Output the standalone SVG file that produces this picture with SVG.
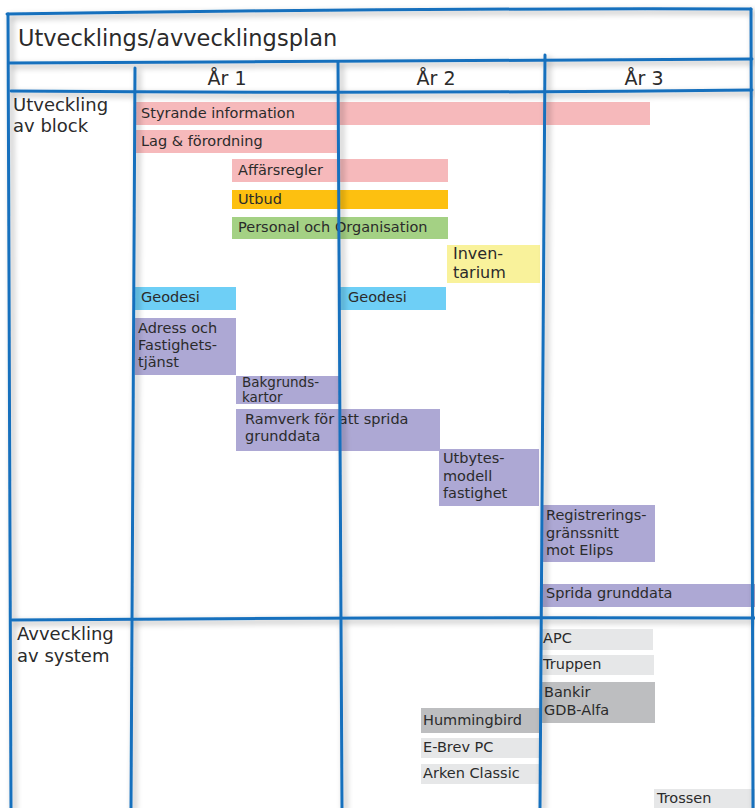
<svg xmlns="http://www.w3.org/2000/svg" width="755" height="808" viewBox="0 0 755 808">
  <defs>
    <filter id="soft" x="-10%" y="-10%" width="120%" height="120%">
      <feGaussianBlur in="SourceAlpha" stdDeviation="3" result="b"/>
      <feOffset in="b" dx="3" dy="3" result="o"/>
      <feComponentTransfer in="o" result="s">
        <feFuncA type="linear" slope="0.35"/>
      </feComponentTransfer>
      <feMerge>
        <feMergeNode in="s"/>
        <feMergeNode in="SourceGraphic"/>
      </feMerge>
    </filter>
  </defs>
  <style>
    text { font-family: "DejaVu Sans", "Liberation Sans", sans-serif; fill: #2b2b2b; }
    .t { font-size: 14.5px; }
    .h { font-size: 19px; }
    .lbl { font-size: 18px; }
    .ttl { font-size: 22.5px; }
    .ln { fill: none; stroke: #1770bd; stroke-width: 3; stroke-linecap: round; }
    .pink { fill: #f6b9bb; }
    .orange { fill: #fdc010; }
    .green { fill: #a4d184; }
    .yellow { fill: #f9f29b; }
    .blue { fill: #6ecff6; }
    .purple { fill: #ada8d4; }
    .lgray { fill: #e6e7e8; }
    .dgray { fill: #bdbec0; }
  </style>

  <rect width="755" height="808" fill="#ffffff"/>

  <!-- bars: development of blocks -->
  <g id="styrande"><rect class="pink" x="135" y="102" width="515" height="23"/><text class="t" x="141" y="118">Styrande information</text></g>
  <g id="lag"><rect class="pink" x="135" y="130" width="204" height="23"/><text class="t" x="141" y="146">Lag &amp; förordning</text></g>
  <g id="affarsregler"><rect class="pink" x="232" y="159" width="216" height="23"/><text class="t" x="238" y="175">Affärsregler</text></g>
  <g id="utbud"><rect class="orange" x="232" y="190" width="216" height="19"/><text class="t" x="238" y="204">Utbud</text></g>
  <g id="personal"><rect class="green" x="232" y="217" width="216" height="22"/><text class="t" x="238" y="232">Personal och Organisation</text></g>
  <g id="inventarium"><rect class="yellow" x="447" y="245" width="93" height="38"/><text class="t" x="453" y="259" style="font-size:16px">Inven-</text><text class="t" x="453" y="278" style="font-size:16px">tarium</text></g>
  <g id="geodesi1"><rect class="blue" x="135" y="287" width="101" height="23"/><text class="t" x="141" y="302">Geodesi</text></g>
  <g id="geodesi2"><rect class="blue" x="339" y="287" width="107" height="23"/><text class="t" x="348" y="302">Geodesi</text></g>
  <g id="adress"><rect class="purple" x="135" y="318" width="101" height="57"/><text class="t" x="138" y="333">Adress och</text><text class="t" x="138" y="350">Fastighets-</text><text class="t" x="138" y="367">tjänst</text></g>
  <g id="bakgrund"><rect class="purple" x="236" y="376" width="103" height="28"/><text class="t" x="242" y="387" style="font-size:13.5px">Bakgrunds-</text><text class="t" x="242" y="402" style="font-size:13.5px">kartor</text></g>
  <g id="ramverk"><rect class="purple" x="236" y="409" width="204" height="42"/><text class="t" x="245" y="424">Ramverk för att sprida</text><text class="t" x="245" y="441">grunddata</text></g>
  <g id="utbytes"><rect class="purple" x="439" y="449" width="100" height="57"/><text class="t" x="443" y="463">Utbytes-</text><text class="t" x="443" y="481">modell</text><text class="t" x="443" y="498">fastighet</text></g>
  <g id="registrering"><rect class="purple" x="542" y="505" width="113" height="57"/><text class="t" x="546" y="520">Registrerings-</text><text class="t" x="546" y="538">gränssnitt</text><text class="t" x="546" y="555">mot Elips</text></g>
  <g id="sprida"><rect class="purple" x="542" y="584" width="213" height="23"/><text class="t" x="546" y="598">Sprida grunddata</text></g>

  <!-- bars: retirement of systems -->
  <g id="apc"><rect class="lgray" x="541" y="629" width="112" height="21"/><text class="t" x="543" y="643">APC</text></g>
  <g id="truppen"><rect class="lgray" x="541" y="655" width="113" height="20"/><text class="t" x="543" y="669">Truppen</text></g>
  <g id="bankir"><rect class="dgray" x="541" y="682" width="114" height="41"/><text class="t" x="544" y="697">Bankir</text><text class="t" x="544" y="715">GDB-Alfa</text></g>
  <g id="hummingbird"><rect class="dgray" x="421" y="708" width="119" height="25"/><text class="t" x="423" y="725">Hummingbird</text></g>
  <g id="ebrev"><rect class="lgray" x="421" y="738" width="119" height="20"/><text class="t" x="423" y="752">E-Brev PC</text></g>
  <g id="arken"><rect class="lgray" x="421" y="764" width="119" height="20"/><text class="t" x="423" y="778">Arken Classic</text></g>
  <g id="trossen"><rect class="lgray" x="654" y="789" width="101" height="19"/><text class="t" x="657" y="803">Trossen</text></g>

  <!-- table grid -->
  <g id="grid" filter="url(#soft)">
    <path class="ln" d="M7,14 Q380,8 751,9"/>
    <path class="ln" d="M8,14 L11,808"/>
    <path class="ln" d="M751,9 L753,808"/>
    <path class="ln" d="M9,63 Q380,60 752,59"/>
    <path class="ln" d="M11,91 Q380,94 752,90"/>
    <path class="ln" d="M135,68 L131,808"/>
    <path class="ln" d="M338,62 L342,808"/>
    <path class="ln" d="M545,55 L540,808"/>
    <path class="ln" d="M12,620 Q380,617 755,618"/>
  </g>

  <!-- headings -->
  <g id="title"><text class="ttl" x="18" y="46">Utvecklings/avvecklingsplan</text></g>
  <g id="ar1"><text class="h" x="227" y="85" text-anchor="middle">År 1</text></g>
  <g id="ar2"><text class="h" x="436" y="85" text-anchor="middle">År 2</text></g>
  <g id="ar3"><text class="h" x="644" y="85" text-anchor="middle">År 3</text></g>
  <g id="utveckling"><text class="lbl" x="13" y="111">Utveckling</text><text class="lbl" x="13" y="132">av block</text></g>
  <g id="avveckling"><text class="lbl" x="17" y="640">Avveckling</text><text class="lbl" x="17" y="662">av system</text></g>
</svg>
